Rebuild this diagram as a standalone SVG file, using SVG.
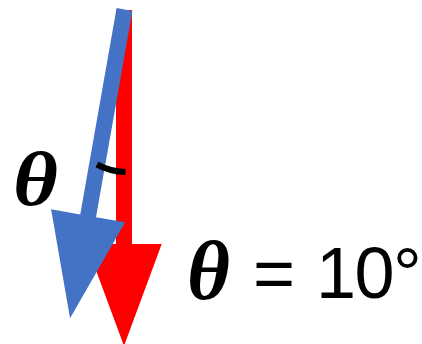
<svg xmlns="http://www.w3.org/2000/svg" width="422" height="344" viewBox="0 0 422 344">
<style>
.red{fill:#FF0000}
.blue{fill:#4472C4}
.th{font-family:"Liberation Serif","DejaVu Serif",serif;font-weight:bold;font-style:italic;fill:#000}
.eq{font-family:"Liberation Sans",Arial,sans-serif;fill:#000;font-size:72px}
</style>
<g id="connectors">
<g id="red-arrow" transform="translate(124,10)">
<polygon class="red" points="-8,0 8,0 8,234 37.7,234 0,336 -37.7,234 -8,234"/>
</g>
<g id="blue-arrow" transform="translate(124.5,9.5) rotate(10)">
<polygon class="blue" points="-8,0 8,0 8,209.5 37.6,209.5 0,313.5 -37.6,209.5 -8,209.5"/>
</g>
</g>
<g id="angle-arc">
<path d="M97,164.5 Q110,171.5 125.5,172" fill="none" stroke="#000" stroke-width="6"/>
</g>
<g id="label-theta">
<text class="th" x="13" y="205" font-size="76" textLength="45" lengthAdjust="spacingAndGlyphs">θ</text>
</g>
<g id="label-equation">
<text class="th" x="187" y="299" font-size="84" textLength="43" lengthAdjust="spacingAndGlyphs">θ</text>
<text class="eq" x="253" y="298">=</text>
<text class="eq" x="316" y="298" letter-spacing="-1.5">10°</text>
</g>
</svg>
